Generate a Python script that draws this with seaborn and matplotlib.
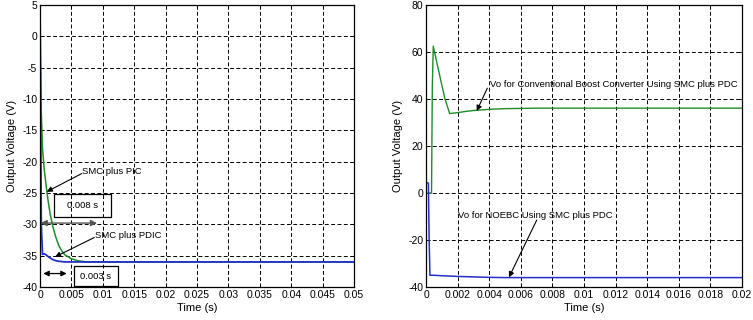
import matplotlib
matplotlib.use("Agg")
import matplotlib.pyplot as plt
import matplotlib.ticker as mticker
from matplotlib.patches import Rectangle
import seaborn as sns
import pandas as pd
import numpy as np

# ---- data ----
pic_t = [0, 0.0001, 0.0002, 0.0004, 0.0007, 0.001, 0.0013, 0.0016, 0.002, 0.0025,
         0.003, 0.0035, 0.004, 0.005, 0.006, 0.007, 0.008, 0.01, 0.05]
pic_v = [5, -5, -12, -18, -21.5, -24, -26.3, -28.2, -30.2, -32.0,
         -33.4, -34.3, -34.9, -35.5, -35.8, -35.95, -36, -36, -36]

pdic_t = [0, 0.0001, 0.0002, 0.0004, 0.0007, 0.001, 0.0015, 0.002, 0.0025, 0.003, 0.004, 0.05]
pdic_v = [4, -10, -30, -34.8, -34.7, -34.9, -35.3, -35.6, -35.8, -35.9, -36, -36]

cbc_t = [0, 0.00035, 0.0004, 0.00046, 0.0008, 0.0012, 0.0015, 0.002, 0.0025, 0.003,
         0.004, 0.005, 0.007, 0.02]
cbc_v = [0, 0, 45, 62.5, 52, 40, 33.8, 34.2, 34.7, 35.1, 35.6, 35.9, 36.1, 36.1]

noebc_t = [0, 0.00015, 0.0002, 0.00025, 0.0005, 0.001, 0.002, 0.003, 0.004, 0.005, 0.02]
noebc_v = [4.5, 4.2, -20, -35, -35, -35.2, -35.5, -35.7, -35.9, -36, -36]

left_xticks = [0, 0.005, 0.01, 0.015, 0.02, 0.025, 0.03, 0.035, 0.04, 0.045, 0.05]
left_yticks = [-40, -35, -30, -25, -20, -15, -10, -5, 0, 5]
right_xticks = [0, 0.002, 0.004, 0.006, 0.008, 0.01, 0.012, 0.014, 0.016, 0.018, 0.02]
right_yticks = [-40, -20, 0, 20, 40, 60, 80]

GREEN = "#1f8c2a"
BLUE = "#2230c8"

sns.set_theme(style="white")
plt.rcParams["font.family"] = ["Liberation Sans", "DejaVu Sans"]
plt.rcParams["text.color"] = "black"
plt.rcParams["axes.labelcolor"] = "black"
plt.rcParams["xtick.color"] = "black"
plt.rcParams["ytick.color"] = "black"

fig = plt.figure(figsize=(7.53, 3.2), dpi=100)
axL = fig.add_axes([40 / 753, 1 - 287 / 320, (354 - 40) / 753, (287 - 5) / 320])
axR = fig.add_axes([426 / 753, 1 - 287 / 320, (742 - 426) / 753, (287 - 5) / 320])

df_pic = pd.DataFrame({"t": pic_t, "v": pic_v})
df_pdic = pd.DataFrame({"t": pdic_t, "v": pdic_v})
df_cbc = pd.DataFrame({"t": cbc_t, "v": cbc_v})
df_noebc = pd.DataFrame({"t": noebc_t, "v": noebc_v})

sns.lineplot(data=df_pic, x="t", y="v", ax=axL, color=GREEN, lw=1.1, sort=False, estimator=None)
sns.lineplot(data=df_pdic, x="t", y="v", ax=axL, color=BLUE, lw=1.3, sort=False, estimator=None)
sns.lineplot(data=df_cbc, x="t", y="v", ax=axR, color=GREEN, lw=1.0, sort=False, estimator=None)
sns.lineplot(data=df_noebc, x="t", y="v", ax=axR, color=BLUE, lw=1.1, sort=False, estimator=None)

fmt = mticker.FuncFormatter(lambda v, p: "%g" % round(v, 6))
for ax, xt, yt, xl, yl in [(axL, left_xticks, left_yticks, (0, 0.05), (-40, 5)),
                           (axR, right_xticks, right_yticks, (0, 0.02), (-40, 80))]:
    ax.set_xlim(*xl)
    ax.set_ylim(*yl)
    ax.set_xticks(xt)
    ax.set_yticks(yt)
    ax.xaxis.set_major_formatter(fmt)
    ax.yaxis.set_major_formatter(fmt)
    ax.grid(True, color="black", linestyle=(0, (4, 2.5)), linewidth=0.7)
    ax.set_axisbelow(True)
    ax.tick_params(axis="both", direction="in", length=3, width=0.6, labelsize=7.5,
                   pad=2, colors="black", top=True, right=True, bottom=True, left=True)
    for s in ax.spines.values():
        s.set_color("black")
        s.set_linewidth(0.9)
    ax.set_xlabel("Time (s)", fontsize=8, labelpad=2, color="black")
    ax.set_ylabel("Output Voltage (V)", fontsize=8, labelpad=4, color="black")

arrow = dict(arrowstyle="-|>", color="black", lw=0.8, mutation_scale=8, shrinkA=0, shrinkB=0)
afs = 6.8

# left annotations
axL.text(0.0067, -21.5, "SMC plus PIC", fontsize=afs, va="center", ha="left", color="black")
axL.annotate("", xy=(0.00107, -24.8), xytext=(0.00664, -21.9), arrowprops=arrow)
axL.text(0.0088, -31.85, "SMC plus PDIC", fontsize=afs, va="center", ha="left", color="black")
axL.annotate("", xy=(0.00239, -35.2), xytext=(0.00865, -32.1), arrowprops=arrow)
axL.add_patch(Rectangle((0.00223, -28.8), 0.0113 - 0.00223, 3.7, fill=False,
                        edgecolor="black", lw=0.9, zorder=5))
axL.text(0.00677, -26.95, "0.008 s", fontsize=afs, ha="center", va="center", zorder=6,
         color="black")
axL.annotate("", xy=(0.00908, -29.8), xytext=(0.0001, -29.8),
             arrowprops=dict(arrowstyle="<|-|>", color="#555555", lw=1.0, mutation_scale=9,
                             shrinkA=0, shrinkB=0))
axL.add_patch(Rectangle((0.00541, -39.85), 0.01237 - 0.00541, 3.15, fill=False,
                        edgecolor="black", lw=0.9, zorder=5))
axL.text(0.00892, -38.3, "0.003 s", fontsize=afs, ha="center", va="center", zorder=6,
         color="black")
axL.annotate("", xy=(0.00425, -37.85), xytext=(0.00053, -37.85),
             arrowprops=dict(arrowstyle="<|-|>", color="black", lw=0.9, mutation_scale=8,
                             shrinkA=0, shrinkB=0))

# right annotations
axR.text(0.00405, 46, "Vo for Conventional Boost Converter Using SMC plus PDC",
         fontsize=afs, va="center", ha="left", color="black")
axR.annotate("", xy=(0.00321, 34.9), xytext=(0.00388, 44.6), arrowprops=arrow)
axR.text(0.00201, -9.7, "Vo for NOEBC Using SMC plus PDC", fontsize=afs,
         va="center", ha="left", color="black")
axR.annotate("", xy=(0.00525, -35.9), xytext=(0.00701, -11.5), arrowprops=arrow)

fig.savefig("out.png", dpi=100)
